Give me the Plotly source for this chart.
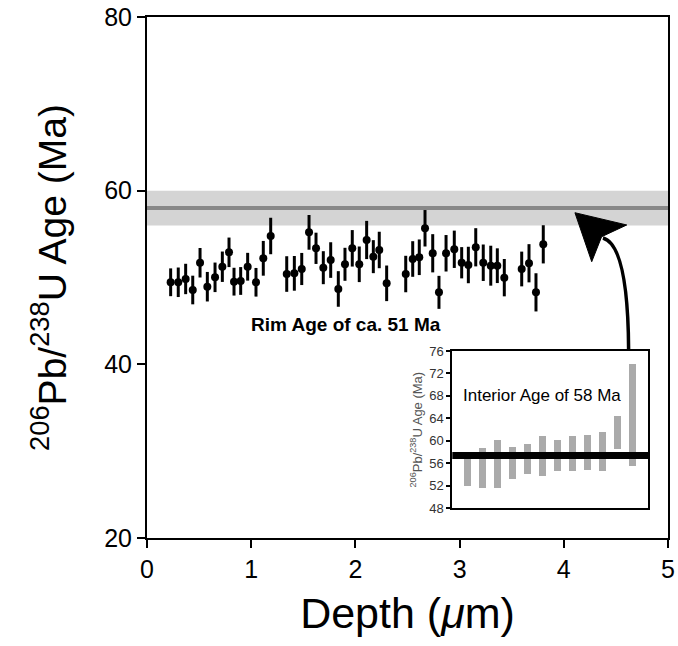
import plotly.graph_objects as go

# ---- main panel data: rim ages vs depth ----
depth = [0.227, 0.300, 0.371, 0.439, 0.509, 0.579, 0.653, 0.723, 0.787, 0.835,
         0.899, 0.966, 1.046, 1.116, 1.187, 1.341, 1.414, 1.485, 1.555, 1.622,
         1.692, 1.763, 1.836, 1.900, 1.970, 2.037, 2.108, 2.172, 2.229, 2.300,
         2.483, 2.550, 2.613, 2.668, 2.742, 2.802, 2.870, 2.949, 3.020, 3.084,
         3.155, 3.227, 3.299, 3.362, 3.429, 3.596, 3.666, 3.733, 3.803]
age = [49.45, 49.45, 49.83, 48.56, 51.70, 48.94, 50.02, 51.24, 52.90, 49.52,
       49.60, 51.24, 49.45, 52.21, 54.78, 50.40, 50.48, 50.98, 55.20, 53.36,
       51.13, 52.01, 48.68, 51.52, 53.36, 51.52, 54.32, 52.40, 53.17, 49.33,
       50.40, 52.13, 52.33, 55.67, 52.79, 48.29, 52.79, 53.25, 51.70, 51.44,
       53.48, 51.70, 51.36, 51.36, 49.98, 50.98, 51.64, 48.29, 53.82]
age_err = [1.6, 1.7, 1.75, 1.65, 1.7, 1.7, 1.7, 1.75, 1.7, 1.6,
           1.6, 1.6, 1.65, 2.0, 2.1, 2.05, 2.0, 1.85, 2.0, 1.8,
           1.9, 2.05, 2.05, 1.9, 2.1, 2.05, 2.2, 1.9, 2.1, 2.05,
           2.1, 2.05, 2.05, 2.1, 2.2, 1.9, 2.1, 2.15, 1.8, 2.1,
           2.2, 2.1, 2.3, 2.0, 2.15, 2.0, 2.2, 2.2, 2.2]

interior_age = 58.0
interior_band = [56.0, 60.0]

# ---- inset data: interior age error ranges ----
inset_idx = [1, 2, 3, 4, 5, 6, 7, 8, 9, 10, 11, 12]
inset_low = [51.9, 51.6, 51.6, 53.2, 54.1, 53.7, 54.7, 54.7, 54.9, 54.7, 58.6, 55.6]
inset_high = [57.8, 58.7, 60.2, 58.9, 59.4, 60.8, 60.2, 60.8, 61.1, 61.5, 64.4, 73.7]
inset_mean_line = 57.4

x_ticks = [0, 1, 2, 3, 4, 5]
y_ticks = [20, 40, 60, 80]
inset_y_ticks = [48, 52, 56, 60, 64, 68, 72, 76]

FONT = "Liberation Sans, Arial, Helvetica, sans-serif"
ylab = "<sup>206</sup>Pb/<sup>238</sup>U Age (Ma)"

fig = go.Figure()

fig.add_trace(go.Scatter(
    x=depth, y=age, mode="markers",
    marker=dict(color="black", size=8),
    error_y=dict(type="data", array=age_err, visible=True,
                 color="black", thickness=3, width=0),
    xaxis="x", yaxis="y", showlegend=False, cliponaxis=False,
))

fig.add_trace(go.Bar(
    x=inset_idx,
    y=[h - l for h, l in zip(inset_high, inset_low)],
    base=inset_low, width=0.46,
    marker=dict(color="#aaaaaa", line=dict(width=0)),
    xaxis="x2", yaxis="y2", showlegend=False,
))

shapes = [
    # interior age band and line in main panel
    dict(type="rect", xref="x domain", yref="y", x0=0, x1=1,
         y0=interior_band[0], y1=interior_band[1],
         fillcolor="#d4d4d4", line=dict(width=0), layer="below"),
    dict(type="line", xref="x domain", yref="y", x0=0, x1=1,
         y0=interior_age, y1=interior_age,
         line=dict(color="#888888", width=4), layer="below"),
    # inset mean line
    dict(type="line", xref="x2 domain", yref="y2", x0=0, x1=1,
         y0=inset_mean_line, y1=inset_mean_line,
         line=dict(color="black", width=7)),
    # curved arrow shaft
    dict(type="path", xref="x", yref="y",
         path="M 4.622,41.69 Q 4.616,53.74 4.376,54.55",
         line=dict(color="black", width=3.5)),
    # arrow head
    dict(type="path", xref="x", yref="y",
         path="M 4.107,57.46 L 4.268,51.82 L 4.363,54.70 L 4.604,56.05 Z",
         fillcolor="black", line=dict(color="black", width=1)),
]

annotations = [
    dict(x=1.91, y=44.64, xref="x", yref="y", text="<b>Rim Age of ca. 51 Ma</b>",
         showarrow=False, font=dict(family=FONT, size=19, color="black")),
    dict(x=5.93, y=68.1, xref="x2", yref="y2", text="Interior Age of 58 Ma",
         showarrow=False, font=dict(family=FONT, size=17, color="black")),
]

fig.update_layout(
    width=678, height=646,
    margin=dict(l=147, r=10, t=17, b=108, autoexpand=False),
    paper_bgcolor="white", plot_bgcolor="white",
    font=dict(family=FONT, color="black"),
    xaxis=dict(domain=[0, 1], range=[0, 5], tickvals=x_ticks, automargin=False,
               ticks="outside", ticklen=8, tickwidth=2, tickcolor="black",
               showline=True, linewidth=2, linecolor="black", mirror=True,
               showgrid=False, zeroline=False,
               tickfont=dict(size=25, family=FONT),
               title=dict(text="Depth (<i>μ</i>m)", font=dict(size=43, family=FONT),
                          standoff=16)),
    yaxis=dict(domain=[0, 1], range=[20, 80], tickvals=y_ticks, automargin=False,
               ticks="outside", ticklen=8, tickwidth=2, tickcolor="black",
               showline=True, linewidth=2, linecolor="black", mirror=True,
               showgrid=False, zeroline=False,
               tickfont=dict(size=25, family=FONT),
               title=dict(text=ylab, font=dict(size=39, family=FONT), standoff=26)),
    xaxis2=dict(domain=[0.586, 0.962], anchor="y2", range=[0, 13], automargin=False,
                showticklabels=False, ticks="",
                showline=True, linewidth=2, linecolor="black", mirror=True,
                showgrid=False, zeroline=False),
    yaxis2=dict(domain=[0.057, 0.359], anchor="x2", range=[48, 76], automargin=False,
                tickvals=inset_y_ticks, ticks="outside", ticklen=4,
                tickwidth=1.5, tickcolor="black",
                showline=True, linewidth=2, linecolor="black", mirror=True,
                showgrid=False, zeroline=False,
                tickfont=dict(size=13, family=FONT, color="#333333"),
                title=dict(text=ylab, font=dict(size=13, family=FONT, color="#555555"),
                           standoff=4)),
    shapes=shapes,
    annotations=annotations,
    bargap=0,
)

fig.write_html("out.html", config={"displayModeBar": False},
               post_script="document.body.style.margin='0';")
